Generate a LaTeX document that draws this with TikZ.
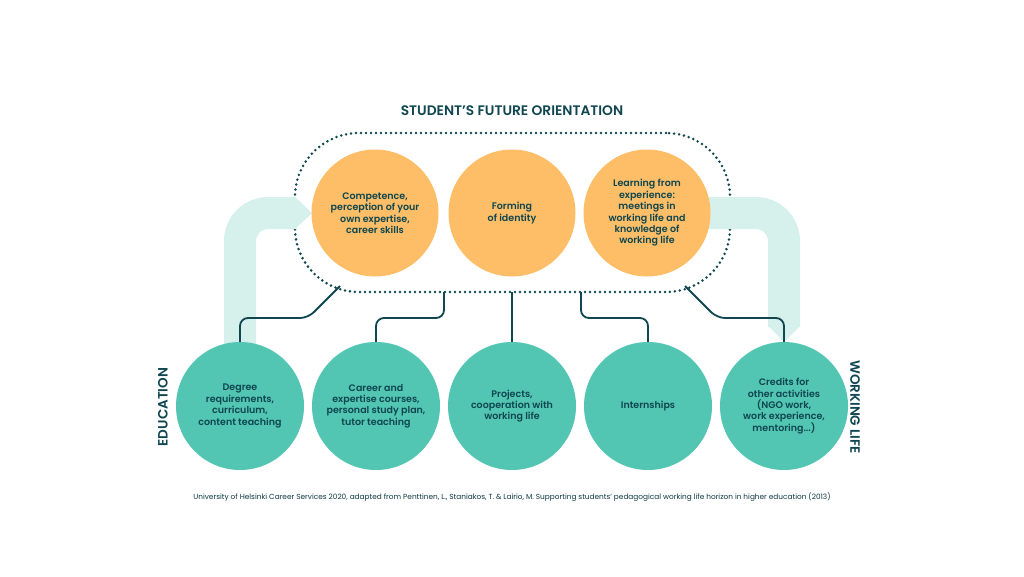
\documentclass[tikz,border=0pt]{standalone}
\usepackage{fontspec}
\setmainfont{Poppins}[BoldFont={Poppins SemiBold}]
\definecolor{orangec}{HTML}{FDBE67}
\definecolor{tealc}{HTML}{52C6B3}
\definecolor{lightc}{HTML}{D6F0EB}
\definecolor{darkc}{HTML}{0F4650}
\begin{document}
\begin{tikzpicture}[x=1pt,y=-1pt,
  orangecircle/.style={circle,fill=orangec,minimum size=127pt,inner sep=0pt,align=center,text=darkc,font=\fontsize{9.5}{11.4}\selectfont\bfseries},
  tealcircle/.style={circle,fill=tealc,minimum size=128pt,inner sep=0pt,align=center,text=darkc,font=\fontsize{9.5}{11.4}\selectfont\bfseries},
  band/.style={line width=32pt,draw=lightc,rounded corners=28pt},
  tip/.style={fill=lightc},
  conn/.style={draw=darkc,line width=1.8pt,rounded corners=8pt},
  dots/.style={draw=darkc,line width=2.8pt,line cap=round,dash pattern=on 0pt off 5pt},
  sidelabel/.style={text=darkc,font=\fontsize{13.5}{15}\selectfont\bfseries}
]
\useasboundingbox (0,0) rectangle (1024,576);
\fill[white] (0,0) rectangle (1024,576);

% title
\node[text=darkc,font=\fontsize{13.8}{15}\selectfont\bfseries] (title) at (512,111) {STUDENT’S FUTURE ORIENTATION};

% dotted orientation boundary
\node[dots,rectangle,rounded corners=64pt,minimum width=435pt,minimum height=159pt,inner sep=0pt] (orient) at (512.5,212.5) {};

% light arrows
\draw[band] (240,360) -- (240,213) -- (296,213);
\fill[tip] (295,197) -- (312,213) -- (295,229) -- cycle;
\draw[band] (700,213) -- (784,213) -- (784,327);
\fill[tip] (768,326) -- (784,342) -- (800,326) -- cycle;

% orange circles
\node[orangecircle] (o1) at (375,213) {Competence,\\perception of your\\own expertise,\\career skills};
\node[orangecircle] (o2) at (512,213) {Forming\\of identity};
\node[orangecircle] (o3) at (647,213) {Learning from\\experience:\\meetings in\\working life and\\knowledge of\\working life};

% teal circles
\node[tealcircle] (t1) at (240,406) {Degree\\requirements,\\curriculum,\\content teaching};
\node[tealcircle] (t2) at (376,406) {Career and\\expertise courses,\\personal study plan,\\tutor teaching};
\node[tealcircle] (t3) at (512,406) {Projects,\\cooperation with\\working life};
\node[tealcircle] (t4) at (648,406) {Internships};
\node[tealcircle] (t5) at (784,406) {Credits for\\other activities\\(NGO work,\\work experience,\\mentoring...)};

% connector end points on the boundary
\coordinate (c1) at (340,286);
\coordinate (c2) at (444,292);
\coordinate (c3) at (512,292);
\coordinate (c4) at (581,292);
\coordinate (c5) at (685,286);

\draw[conn] (t1.north) -- (240,318) -- (308,318) -- (c1);
\draw[conn] (t2.north) -- (376,318) -- (444,318) -- (c2);
\draw[conn] (t3.north) -- (c3);
\draw[conn] (t4.north) -- (648,318) -- (581,318) -- (c4);
\draw[conn] (t5.north) -- (784,318) -- (717,318) -- (c5);

% side labels
\node[sidelabel,rotate=90] (edu) at (163,407) {EDUCATION};
\node[sidelabel,rotate=-90] (work) at (855,407) {WORKING LIFE};

% footer
\node[text=darkc!80!black,font=\fontsize{7.35}{9}\selectfont] (foot) at (512,497) {University of Helsinki Career Services 2020, adapted from Penttinen, L., Staniakos, T. \& Lairio, M. Supporting students’ pedagogical working life horizon in higher education (2013)};
\end{tikzpicture}
\end{document}
